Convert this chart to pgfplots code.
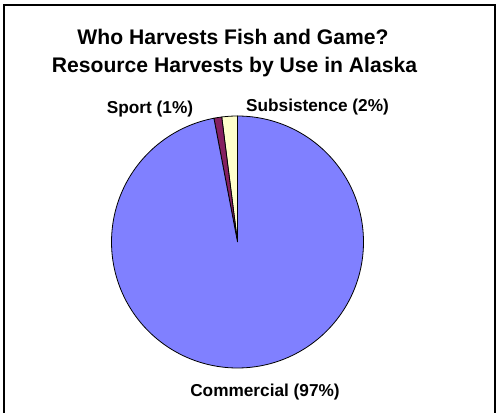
\documentclass[border=0pt]{standalone}
\usepackage{pgfplots}
\pgfplotsset{compat=1.18}
\usepackage{fontspec}
\setmainfont{Liberation Sans}
\definecolor{commc}{HTML}{8080FF}
\definecolor{sportc}{HTML}{852060}
\definecolor{subsc}{HTML}{FFFFCC}
\begin{document}
\begin{tikzpicture}
\useasboundingbox (0bp,0bp) rectangle (496bp,413bp);
\draw[line width=2bp] (4bp,0bp) -- (4bp,408bp) -- (494.5bp,408bp) -- (494.5bp,0bp);
\node[anchor=base,font=\bfseries\fontsize{21.2}{24}\selectfont] at (233bp,368bp) {Who Harvests Fish and Game?};
\node[anchor=base,font=\bfseries\fontsize{21.2}{24}\selectfont] at (234.5bp,340.5bp) {Resource Harvests by Use in Alaska};
\begin{axis}[at={(111.5bp,45bp)}, anchor=south west, width=252bp, height=252bp,
  scale only axis, xmin=-1, xmax=1, ymin=-1, ymax=1, hide axis, clip=false]
% shares in percent, counter-clockwise from the top
\pgfmathsetmacro{\pSub}{2}
\pgfmathsetmacro{\pSport}{1}
\pgfmathsetmacro{\pComm}{97}
\pgfmathsetmacro{\aA}{90}
\pgfmathsetmacro{\aB}{\aA+3.6*\pSub}
\pgfmathsetmacro{\aC}{\aB+3.6*\pSport}
\pgfmathsetmacro{\aD}{\aC+3.6*\pComm}
\addplot[fill=subsc, draw=black, line width=0.8bp, domain=\aA:\aB, samples=10, variable=\t] ({cos(\t)},{sin(\t)}) -- (axis cs:0,0) -- cycle;
\addplot[fill=sportc, draw=black, line width=0.8bp, domain=\aB:\aC, samples=10, variable=\t] ({cos(\t)},{sin(\t)}) -- (axis cs:0,0) -- cycle;
\addplot[fill=commc, draw=black, line width=0.8bp, domain=\aC:\aD, samples=200, variable=\t] ({cos(\t)},{sin(\t)}) -- (axis cs:0,0) -- cycle;
\end{axis}
\node[anchor=base,font=\bfseries\fontsize{17.3}{20}\selectfont] at (150bp,299bp) {Sport (1\%)};
\node[anchor=base,font=\bfseries\fontsize{17.3}{20}\selectfont] at (317.5bp,301bp) {Subsistence (2\%)};
\node[anchor=base,font=\bfseries\fontsize{17.3}{20}\selectfont] at (265bp,17bp) {Commercial (97\%)};
\end{tikzpicture}
\end{document}
